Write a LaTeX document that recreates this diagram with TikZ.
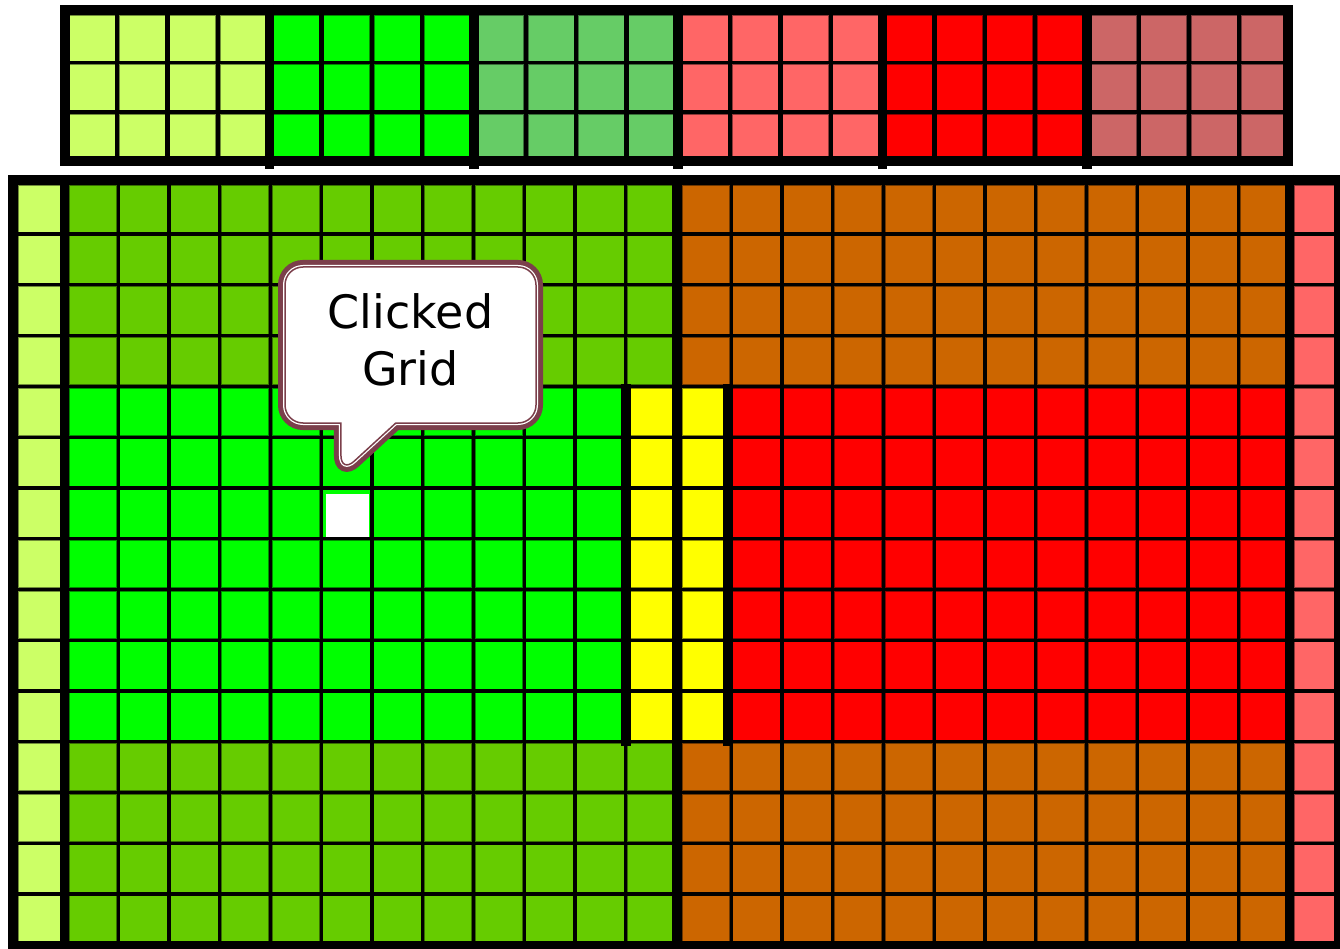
\documentclass[tikz,border=0pt]{standalone}
\usepackage{fontspec}
\usetikzlibrary{shapes.callouts}
\newfontfamily\bubblefont{DejaVu Sans}
\definecolor{cellLime}{HTML}{CCFF66}
\definecolor{cellGreen}{HTML}{00FF00}
\definecolor{cellSage}{HTML}{66CC66}
\definecolor{cellSalmon}{HTML}{FF6666}
\definecolor{cellRed}{HTML}{FF0000}
\definecolor{cellRose}{HTML}{CC6666}
\definecolor{cellOlive}{HTML}{66CC00}
\definecolor{cellYellow}{HTML}{FFFF00}
\definecolor{cellBrown}{HTML}{CC6600}
\definecolor{bubbleEdge}{HTML}{7B3F4B}

\begin{document}
\begin{tikzpicture}[
    x=1pt, y=-1pt,
    cell/.style={draw=black, draw opacity=0.45, line width=0.8pt},
    frame/.style={draw=black, line width=10pt},
    divider/.style={draw=black, line width=9.5pt},
    bubble/.style={rectangle callout, rounded corners=18pt, callout pointer width=55pt,
      minimum width=251pt, minimum height=156pt, inner sep=0pt, align=center,
      preaction={draw=bubbleEdge, line width=14pt}, fill=white, draw=white, line width=4pt,
      postaction={draw=bubbleEdge, line width=1.5pt},
      font=\bubblefont\fontsize{46}{57}\selectfont}
  ]
  \useasboundingbox (0,0) rectangle (1340,949);

  % colour palette
  \fill[black] (60,5) rectangle (1293,166);
  \foreach \clr [count=\g from 0] in {cellLime,cellGreen,cellSage,cellSalmon,cellRed,cellRose}
    \foreach \c in {0,...,3}
      \foreach \r in {0,1,2}
        \path[cell, fill=\clr] ({69+\g*204.3+\c*50.3},{15+\r*49.5}) rectangle ++(46,46);
  \foreach \g in {0,...,4}
    \draw[divider] ({269.6+\g*204.3},5) -- ({269.6+\g*204.3},169);
  \draw[frame] (65,10) rectangle (1288,161);

  % main grid
  \fill[black] (8,175) rectangle (1344,951);
  \foreach \r in {0,...,14} {
    \path[cell, fill=cellLime] (18,{185+\r*50.75}) rectangle ++(42,47.5);
    \path[cell, fill=cellSalmon] (1294,{185+\r*50.75}) rectangle ++(40,47.5);
  }
  \foreach \r in {0,1,2,3,11,12,13,14}
    \foreach \c in {0,...,11} {
      \path[cell, fill=cellOlive] ({69+\c*50.75},{185+\r*50.75}) rectangle ++(47.5,47.5);
      \path[cell, fill=cellBrown] ({682+\c*50.75},{185+\r*50.75}) rectangle ++(47.5,47.5);
    }
  \foreach \r in {4,...,10} {
    \foreach \c in {0,...,10}
      \path[cell, fill=cellGreen] ({69+\c*50.75},{185+\r*50.75}) rectangle ++(47.5,47.5);
    \foreach \c in {1,...,11}
      \path[cell, fill=cellRed] ({682+\c*50.75},{185+\r*50.75}) rectangle ++(47.5,47.5);
    \path[cell, fill=cellYellow] ({69+11*50.75},{185+\r*50.75}) rectangle ++(47.5,47.5);
    \path[cell, fill=cellYellow] (682,{185+\r*50.75}) rectangle ++(47.5,47.5);
  }
  \node[fill=white, inner sep=0pt, minimum size=43pt] (clicked) at (347,515) {};

  \draw[divider] (64.5,175) -- (64.5,951);
  \draw[divider] (677,175) -- (677,951);
  \draw[divider] (1289.5,175) -- (1289.5,951);
  \draw[divider] (626,384) -- (626,746);
  \draw[divider] (728,384) -- (728,746);
  \draw[frame] (13,180) rectangle (1339,946);

  % callout
  \node[bubble, callout absolute pointer={([xshift=-6pt,yshift=20pt]clicked.north)}] (note)
    at (410.5,345) {Clicked\\Grid\rule[-11pt]{0pt}{11pt}};
\end{tikzpicture}
\end{document}
